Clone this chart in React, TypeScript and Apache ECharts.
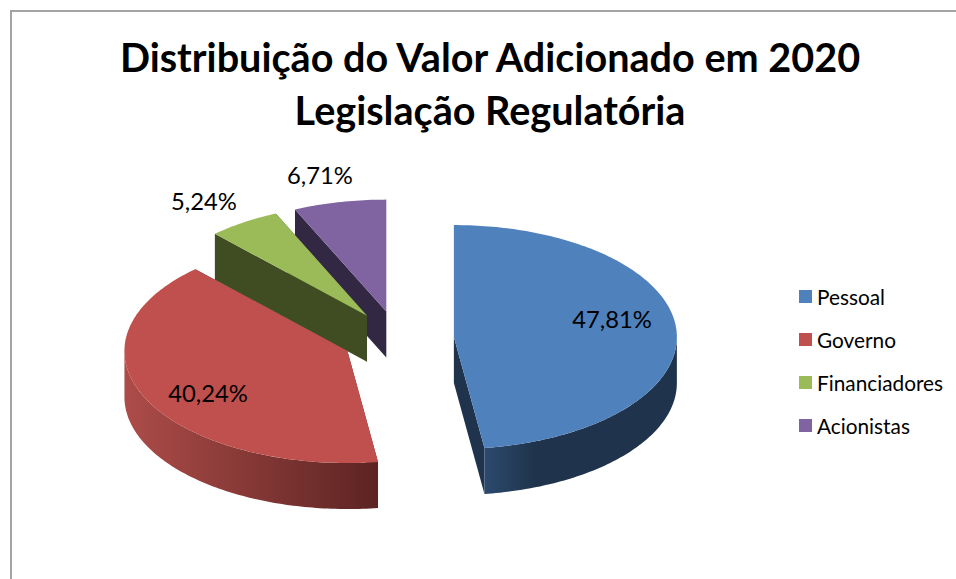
import React, { useEffect, useRef } from "react";
import * as echarts from "echarts";

const categories = ["Pessoal", "Governo", "Financiadores", "Acionistas"];
const shares = [47.81, 40.24, 5.24, 6.71];
const titleLines = ["Distribuição do Valor Adicionado em 2020", "Legislação Regulatória"];

const topColors = ["#4f81bd", "#c0504d", "#9bbb59", "#8064a2"];
const wallColors = ["#1f344c", "#5c2422", "#404d22", "#322843"];
const sliceLayers = [4, 3, 2, 1];
const arcGradients: any[] = [
  { x: 484, x2: 535, stops: ["#2c4a6e", "#1f344c"] },
  { x: 125, x2: 378, stops: ["#ad4c49", "#5c2422"] },
  null,
  null,
];
// label centres in page pixels, per slice
const labelCentres = [
  [612, 319],
  [208, 393],
  [204, 201],
  [320, 175],
];

const CX = 398;
const CY = 339;
const RX = 223;
const RY = 112;
const EXPLODE = 56;
const DEPTH = 46;
const FONT = "Lato, Carlito, sans-serif";

const total = shares.reduce((a, b) => a + b, 0);
const startAngles: number[] = [];
shares.reduce((acc, v, i) => {
  startAngles[i] = (acc / total) * 360;
  return acc + v;
}, 0);

const rad = (d: number) => (d * Math.PI) / 180;

function renderSlice(index: number) {
  return (_params: any, api: any) => {
    const value = api.value(0) as number;
    const a0 = startAngles[index];
    const a1 = a0 + (value / total) * 360;
    const mid = (a0 + a1) / 2;
    const cx = CX + EXPLODE * Math.sin(rad(mid));
    const cy = CY - (EXPLODE / 2) * Math.cos(rad(mid));
    const pt = (a: number, dy = 0) => [cx + RX * Math.sin(rad(a)), cy - RY * Math.cos(rad(a)) + dy];
    const arc = (from: number, to: number, dy = 0) => {
      const pts: number[][] = [];
      const n = Math.max(2, Math.ceil(Math.abs(to - from)));
      for (let i = 0; i <= n; i++) pts.push(pt(from + ((to - from) * i) / n, dy));
      return pts;
    };
    const children: any[] = [];
    const wall = (a: number) => ({
      type: "polygon",
      shape: { points: [[cx, cy], pt(a), pt(a, DEPTH), [cx, cy + DEPTH]] },
      style: { fill: wallColors[index] },
    });
    children.push(wall(a0), wall(a1));
    const f0 = Math.max(a0, 90);
    const f1 = Math.min(a1, 270);
    if (f1 > f0) {
      const g = arcGradients[index];
      children.push({
        type: "polygon",
        shape: { points: [...arc(f0, f1), ...arc(f1, f0, DEPTH)] },
        style: {
          fill: g
            ? {
                type: "linear",
                global: true,
                x: g.x,
                y: 0,
                x2: g.x2,
                y2: 0,
                colorStops: [
                  { offset: 0, color: g.stops[0] },
                  { offset: 1, color: g.stops[1] },
                ],
              }
            : wallColors[index],
        },
      });
    }
    children.push({
      type: "polygon",
      shape: { points: [[cx, cy], ...arc(a0, a1)] },
      style: { fill: topColors[index] },
    });
    children.push({
      type: "text",
      style: {
        text: value.toFixed(2).replace(".", ",") + "%",
        x: labelCentres[index][0],
        y: labelCentres[index][1],
        align: "center",
        verticalAlign: "middle",
        fontFamily: FONT,
        fontSize: 23.8,
        fill: "#000000",
      },
    });
    return { type: "group", children };
  };
}

export default function App() {
  const ref = useRef<HTMLDivElement>(null);
  useEffect(() => {
    const chart = echarts.init(ref.current!, null, { renderer: "svg" });
    chart.setOption({
      animation: false,
      backgroundColor: "#ffffff",
      color: topColors,
      title: {
        text: titleLines.join("\n"),
        left: 485,
        top: 25,
        textAlign: "center",
        textStyle: { fontFamily: FONT, fontWeight: "bold", fontSize: 39.6, lineHeight: 53, color: "#000000" },
      },
      legend: {
        orient: "vertical",
        left: 799,
        top: 286,
        padding: 0,
        icon: "rect",
        itemWidth: 13,
        itemHeight: 13,
        itemGap: 22,
        data: categories,
        textStyle: { fontFamily: FONT, fontSize: 20.8, color: "#000000", padding: [0, 0, 0, 0] },
      },
      graphic: [
        {
          type: "polyline",
          silent: true,
          shape: { points: [[11, 579], [11, 11], [956, 11]] },
          style: { stroke: "#a3a3a3", lineWidth: 2, fill: "none" },
        },
      ],
      series: categories.map((name, i) => ({
        type: "custom",
        name,
        z: sliceLayers[i],
        coordinateSystem: "none",
        renderItem: renderSlice(i),
        data: [[shares[i]]],
        silent: true,
      })),
    });
    return () => chart.dispose();
  }, []);
  return <div ref={ref} style={{ position: "fixed", left: 0, top: 0, width: 956, height: 579 }} />;
}
